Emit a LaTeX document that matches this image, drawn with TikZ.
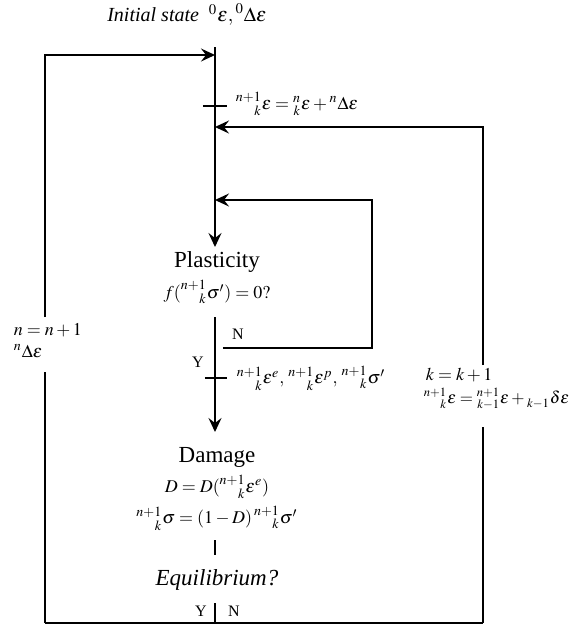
\documentclass[tikz,border=0pt]{standalone}
\usepackage{mathptmx}
\usepackage{mathtools}
\usepackage[no-math]{fontspec}
\setmainfont{Liberation Serif}
\usetikzlibrary{arrows.meta}

\tikzset{
  head/.style={font=\fontsize{11.5}{13}\selectfont},
  eqn/.style={font=\fontsize{9}{10}\selectfont,inner sep=0.5pt},
  yn/.style={font=\fontsize{8}{9}\selectfont},
}
\newcommand{\ps}[3]{\prescript{#1}{#2}{#3}}

\begin{document}
\begin{tikzpicture}[x=0.5pt,y=-0.5pt,line width=0.9pt,>={Stealth[length=7pt,width=6.5pt,inset=2.5pt]}]
\useasboundingbox (0,0) rectangle (581,629);
% corners of the loops
\coordinate (top) at (215,47);
\coordinate (tl) at (45,55);
\coordinate (tm) at (215,55);
\coordinate (bl) at (45,623);
\coordinate (bm) at (215,623);
\coordinate (br) at (483,623);
\coordinate (tr) at (483,127);
\coordinate (rm) at (215,127);
\coordinate (pin) at (215,247);
\coordinate (pout) at (215,317);
\coordinate (din) at (215,432);
\coordinate (loopa) at (223,348);
\coordinate (loopb) at (372,348);
\coordinate (loopc) at (372,200);
\coordinate (loopd) at (215,200);
\coordinate (lbreak1) at (45,317);
\coordinate (lbreak2) at (45,372);
\coordinate (rbreak1) at (483,365);
\coordinate (rbreak2) at (483,427);
\coordinate (eqa) at (215,540);
\coordinate (eqb) at (215,555);
\coordinate (yna) at (215,603);

% texts
\node[font=\fontsize{10}{12}\selectfont] (init) at (187,15) {\textit{Initial state}\ \ $\ps{0}{}{\varepsilon},\ps{0}{}{\Delta\varepsilon}$};
\node[eqn,anchor=west] (upd) at (234,104) {$\ps{n+1}{k}{\varepsilon}=\ps{n}{k}{\varepsilon}+\ps{n}{}{\Delta\varepsilon}$};
\node[head] (plast) at (217,262) {Plasticity};
\node[eqn] (yield) at (217,292) {$f(\ps{n+1}{k}{\sigma'})=0?$};
\node[yn] (pn) at (238,334) {N};
\node[yn] (py) at (198,362) {Y};
\node[eqn,anchor=west] (strain) at (235,378) {$\ps{n+1}{k}{\varepsilon^{e}},\,\ps{n+1}{k}{\varepsilon^{p}},\,\ps{n+1}{k}{\sigma'}$};
\node[head] (dmg) at (217,457) {Damage};
\node[eqn] (dfun) at (217,487) {$D=D(\ps{n+1}{k}{\varepsilon^{e}})$};
\node[eqn] (stress) at (217,518) {$\ps{n+1}{k}{\sigma}=(1-D)\ps{n+1}{k}{\sigma'}$};
\node[head,font=\fontsize{11.5}{13}\selectfont\itshape] (equil) at (217,580) {Equilibrium?};
\node[yn] (ey) at (201,611) {Y};
\node[yn] (en) at (234,611) {N};
\node[eqn,anchor=west] (ninc) at (12,330) {$n=n+1$};
\node[eqn,anchor=west] (ndel) at (12,353) {$\ps{n}{}{\Delta\varepsilon}$};
\node[eqn,anchor=west] (kinc) at (424,375) {$k=k+1$};
\node[eqn,anchor=west,font=\fontsize{8.5}{10}\selectfont] (kupd) at (422,399) {$\ps{n+1}{k}{\varepsilon}=\ps{n+1}{k-1}{\varepsilon}+\ps{}{k-1}{\delta\varepsilon}$};

% main path
\draw[->] (top) -- (pin);
\draw (203,106) -- (227,106);
\draw[->] (pout) -- (din);
\draw (205,378) -- (227,378);
\draw (eqa) -- (eqb);
\draw (yna) -- (bm);
% inner loop
\draw[->] (loopa) -- (loopb) -- (loopc) -- (loopd);
% outer loops
\draw (bl) -- (br);
\draw (bl) -- (lbreak2);
\draw[->] (lbreak1) -- (tl) -- (tm);
\draw (br) -- (rbreak2);
\draw[->] (rbreak1) -- (tr) -- (rm);
\end{tikzpicture}
\end{document}
